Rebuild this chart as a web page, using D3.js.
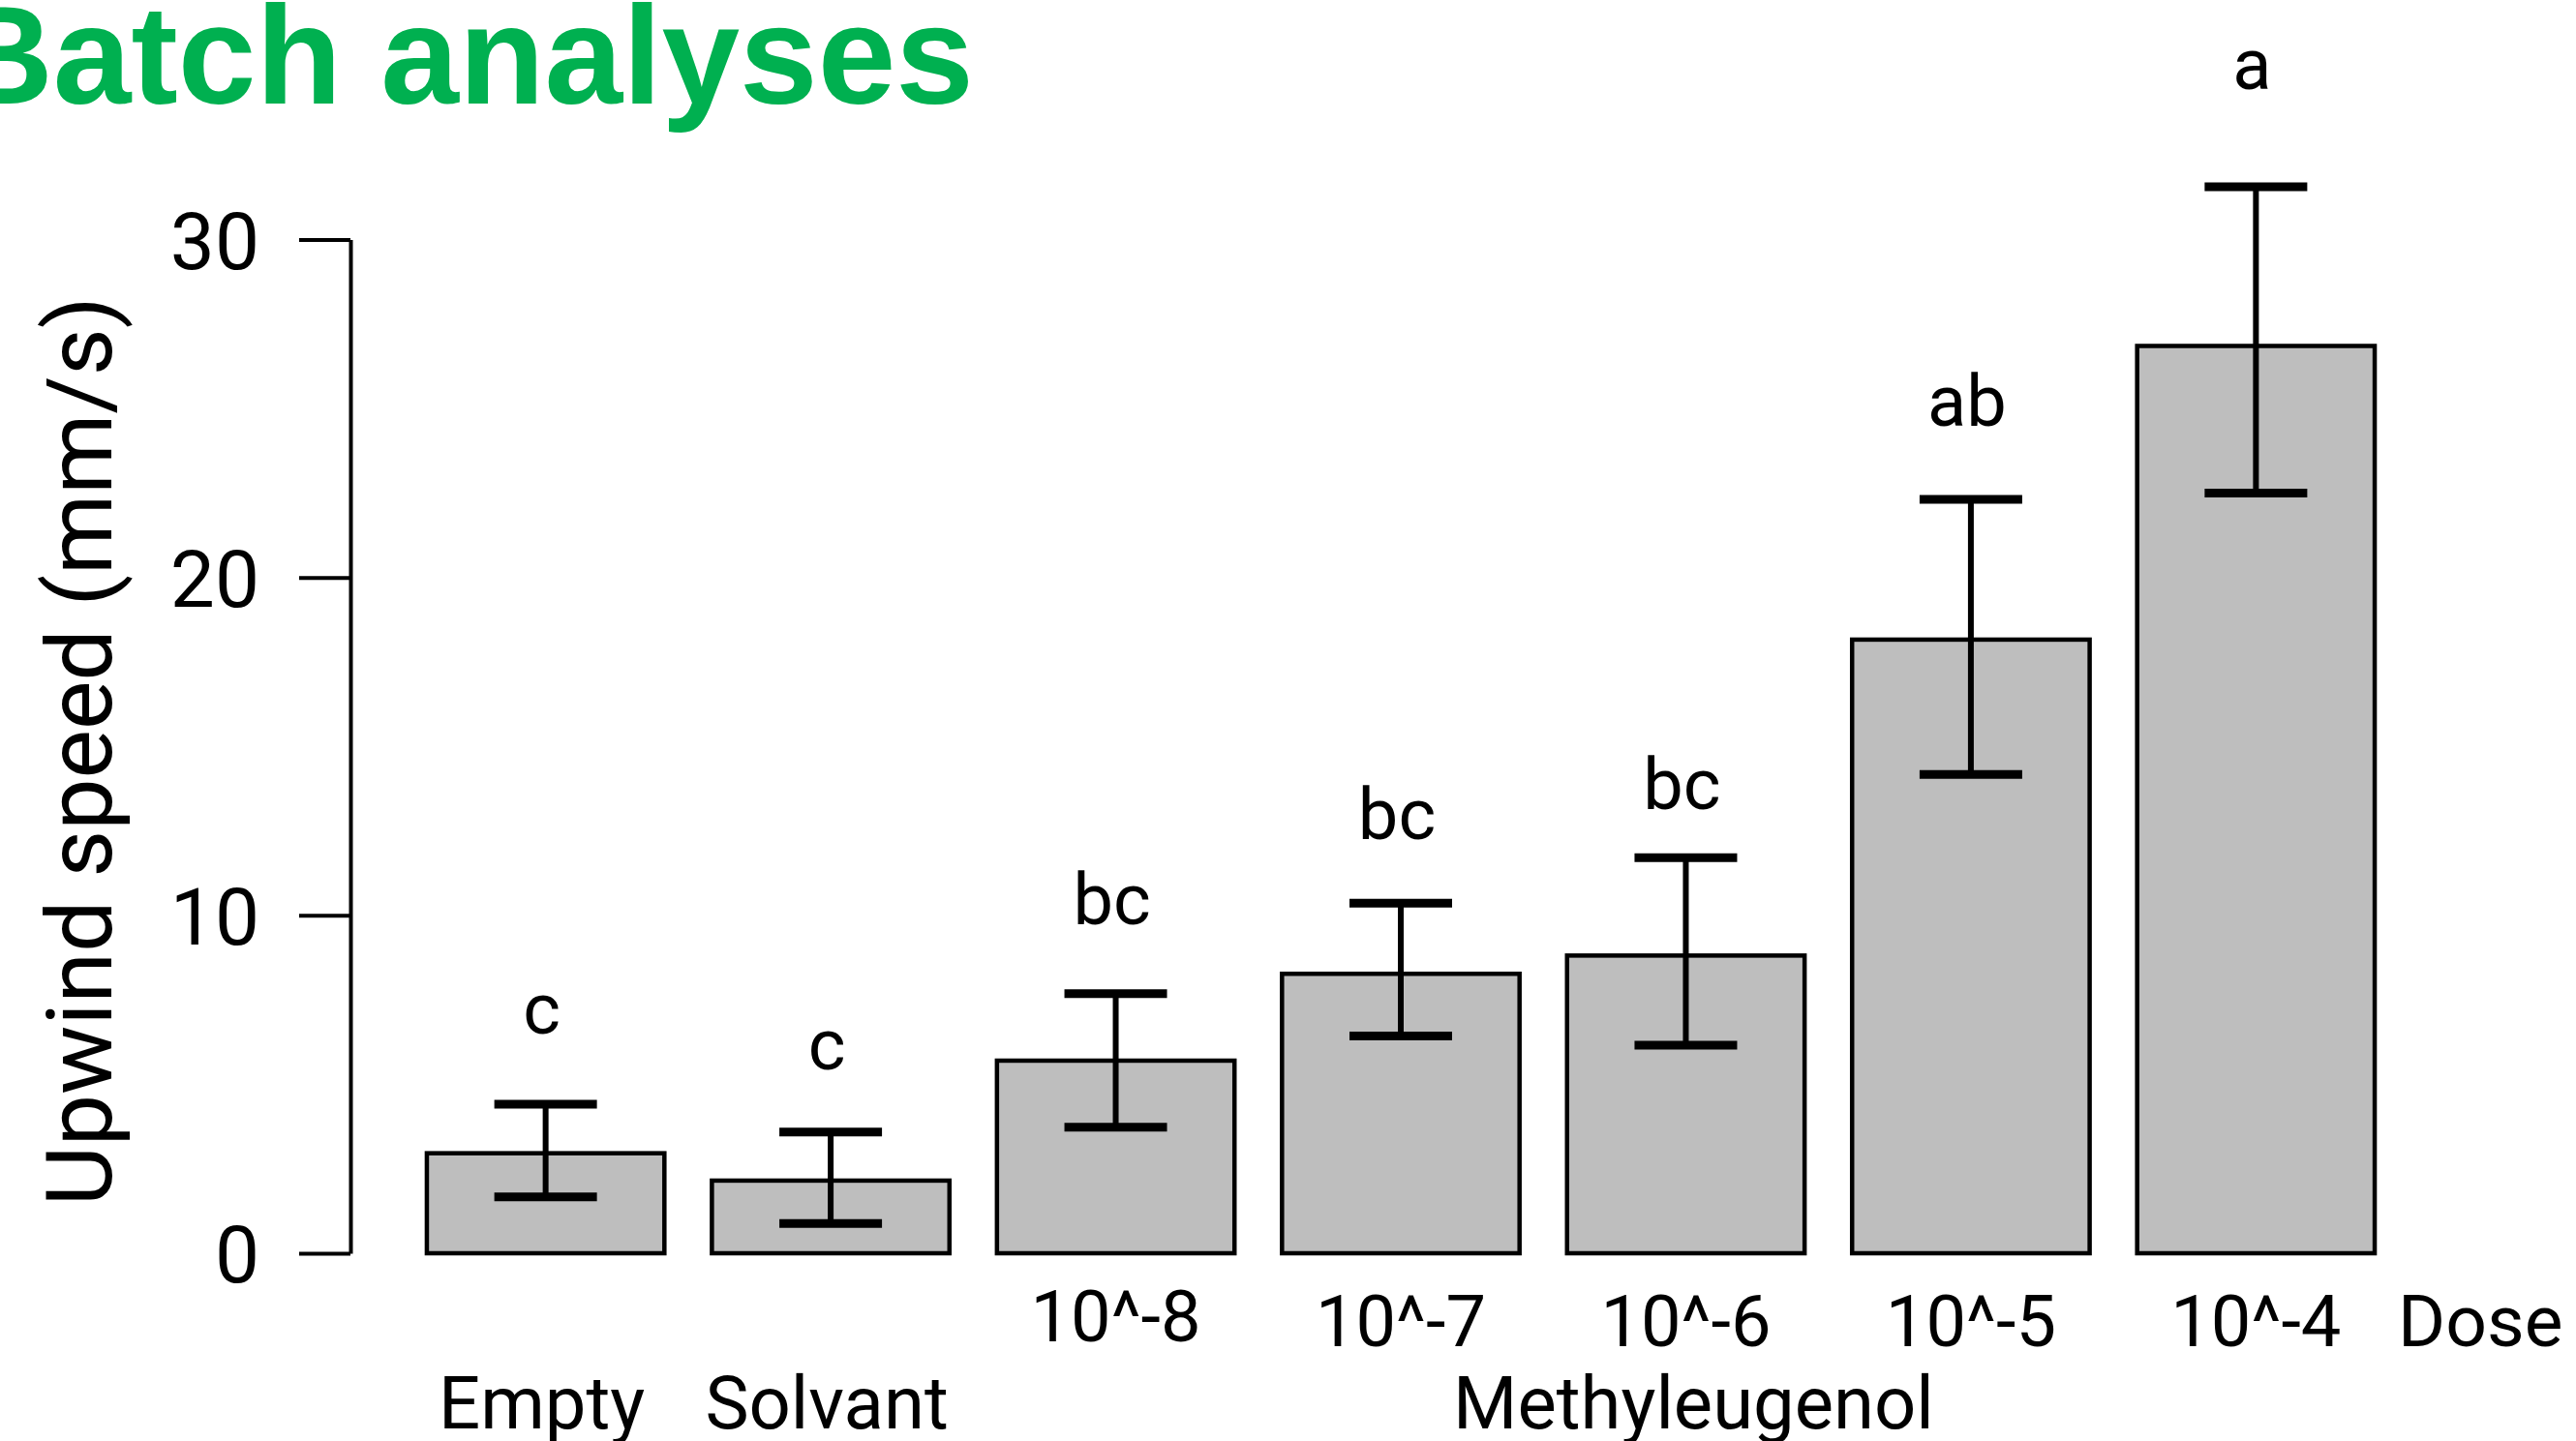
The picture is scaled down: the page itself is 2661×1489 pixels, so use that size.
<!DOCTYPE html>
<html><head><meta charset="utf-8">
<script src="https://cdn.jsdelivr.net/npm/d3@7"></script>
<style>body{margin:0;background:#fff} svg{display:block}</style>
</head><body><svg id="c" width="2661" height="1489"></svg>
<script>
const categories = ["Empty","Solvant","10^-8","10^-7","10^-6","10^-5","10^-4"];
const doseLabels = ["","","10^-8","10^-7","10^-6","10^-5","10^-4"];
const groupLabels = ["Empty","Solvant","","","Methyleugenol","",""];
const means = [2.96,2.15,5.7,8.27,8.81,18.16,26.85];
const errLow = [1.67,0.88,3.73,6.43,6.16,14.17,22.5];
const errHigh = [4.41,3.59,7.68,10.36,11.71,22.31,31.56];
const letters = ["c","c","bc","bc","bc","ab","a"];
const letterY = [6.49,5.44,9.73,12.26,13.14,24.5,34.45];
const yTicks = [0,10,20,30];
const titleText = "Batch analyses";
const yTitle = "Upwind speed (mm/s)";
const doseTitle = "Dose";

const svg = d3.select("#c");
const FONT = "Roboto, 'Noto Sans', sans-serif";

const y = d3.scaleLinear().domain([0,30]).range([1295,247.5]);
const x = d3.scaleBand().domain(categories).range([416.4,2477.6]).paddingInner(1/6).paddingOuter(1/12);

// title
svg.append("text").attr("x",1006).attr("y",107).attr("text-anchor","end")
  .attr("font-family","'Liberation Sans', Arial, sans-serif").attr("font-weight","bold")
  .attr("font-size",145).attr("fill","#00B050").text(titleText);

// y axis
const ax = svg.append("g").attr("transform","translate(362,0)")
  .call(d3.axisLeft(y).tickValues(yTicks).tickSize(53).tickSizeOuter(0).tickPadding(41).tickFormat(d3.format("d")));
ax.select(".domain").attr("stroke","#000").attr("stroke-width",4);
ax.selectAll(".tick line").attr("stroke","#000").attr("stroke-width",4);
ax.selectAll(".tick text").attr("font-family",FONT).attr("font-size",82).attr("fill","#000").attr("dy","0.36em");

// y title
svg.append("text").attr("transform","translate(115,776) rotate(-90)").attr("text-anchor","middle")
  .attr("font-family",FONT).attr("font-size",95).attr("fill","#000").text(yTitle);

const data = categories.map((c,i)=>({c,m:means[i],lo:errLow[i],hi:errHigh[i],l:letters[i],ly:letterY[i],dose:doseLabels[i],grp:groupLabels[i]}));

// bars
svg.append("g").selectAll("rect").data(data).join("rect")
  .attr("x",d=>x(d.c)).attr("width",x.bandwidth())
  .attr("y",d=>y(d.m)).attr("height",d=>y(0)-y(d.m))
  .attr("fill","#BEBEBE").attr("stroke","#000").attr("stroke-width",4.5);

// error bars
const eb = svg.append("g").selectAll("g").data(data).join("g");
const cx = d=>x(d.c)+x.bandwidth()/2;
eb.append("line").attr("x1",cx).attr("x2",cx).attr("y1",d=>y(d.lo)).attr("y2",d=>y(d.hi))
  .attr("stroke","#000").attr("stroke-width",6);
eb.append("line").attr("x1",d=>cx(d)-53).attr("x2",d=>cx(d)+53).attr("y1",d=>y(d.hi)).attr("y2",d=>y(d.hi))
  .attr("stroke","#000").attr("stroke-width",9);
eb.append("line").attr("x1",d=>cx(d)-53).attr("x2",d=>cx(d)+53).attr("y1",d=>y(d.lo)).attr("y2",d=>y(d.lo))
  .attr("stroke","#000").attr("stroke-width",9);

// letters
svg.append("g").selectAll("text").data(data).join("text")
  .attr("x",d=>cx(d)-4).attr("y",d=>y(d.ly)).attr("text-anchor","middle")
  .attr("font-family",FONT).attr("font-size",74).attr("fill","#000").text(d=>d.l);

// dose labels
svg.append("g").selectAll("text").data(data.filter(d=>d.dose)).join("text")
  .attr("x",d=>cx(d)).attr("y",(d,i)=>i===0?1386:1391).attr("text-anchor","middle")
  .attr("font-family",FONT).attr("font-size",74).attr("fill","#000").text(d=>d.dose);
svg.append("text").attr("x",x(categories[6])+x.bandwidth()+24).attr("y",1391)
  .attr("font-family",FONT).attr("font-size",75).attr("fill","#000").text(doseTitle);

// group labels
svg.append("g").selectAll("text").data(data.filter(d=>d.grp)).join("text")
  .attr("x",d=>d.grp==="Methyleugenol"?cx(d)+8:cx(d)-4).attr("y",1476).attr("text-anchor","middle")
  .attr("font-family",FONT).attr("font-size",76).attr("fill","#000").text(d=>d.grp);
</script></body></html>
